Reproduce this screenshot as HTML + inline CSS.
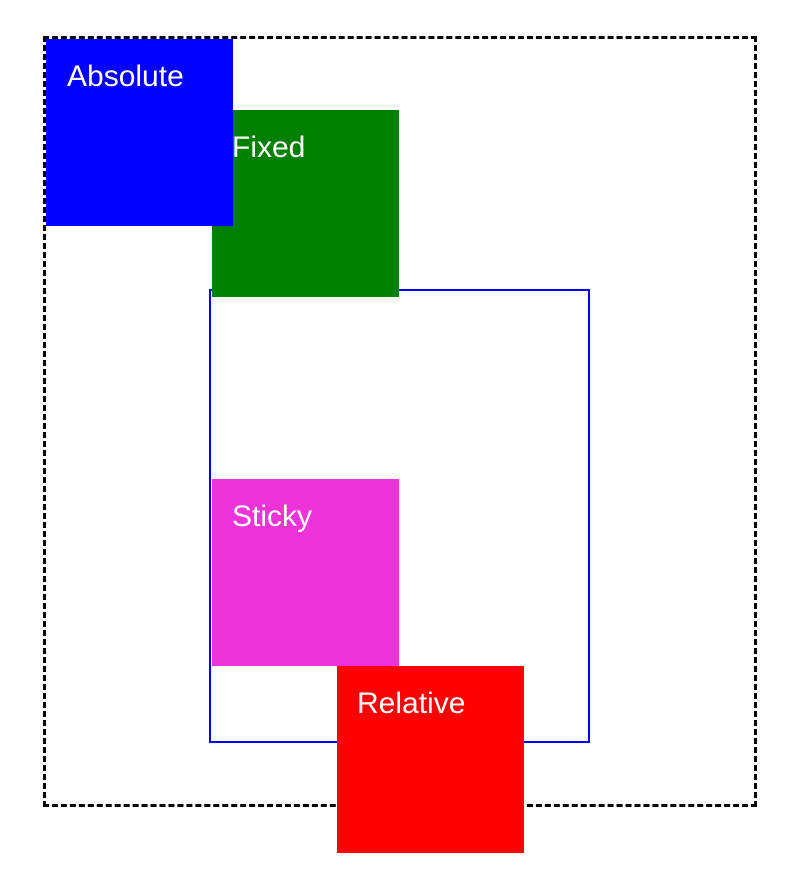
<!DOCTYPE html>
<html><head><style>
html,body{margin:0;padding:0;background:#fff;width:802px;height:877px;overflow:hidden;position:relative;font-family:"Liberation Sans",sans-serif;}
.b{position:absolute;box-sizing:border-box;}
.box{width:187px;height:187px;color:#fff;font-size:30px;}
.box span{position:absolute;left:20px;top:21px;line-height:34px;}
</style></head><body>
<div class="b" style="left:43px;top:36px;width:714px;height:771px;border:3px dashed #000;"></div>
<div class="b" style="left:209px;top:289px;width:381px;height:454px;border:2px solid #00f;"></div>
<div class="b box" style="left:212px;top:110px;background:#008000;"><span>Fixed</span></div>
<div class="b box" style="left:46px;top:39px;background:#00f;"><span style="left:21px">Absolute</span></div>
<div class="b box" style="left:212px;top:479px;background:#ee33d8;"><span>Sticky</span></div>
<div class="b box" style="left:337px;top:666px;background:#f00;"><span>Relative</span></div>
</body></html>
